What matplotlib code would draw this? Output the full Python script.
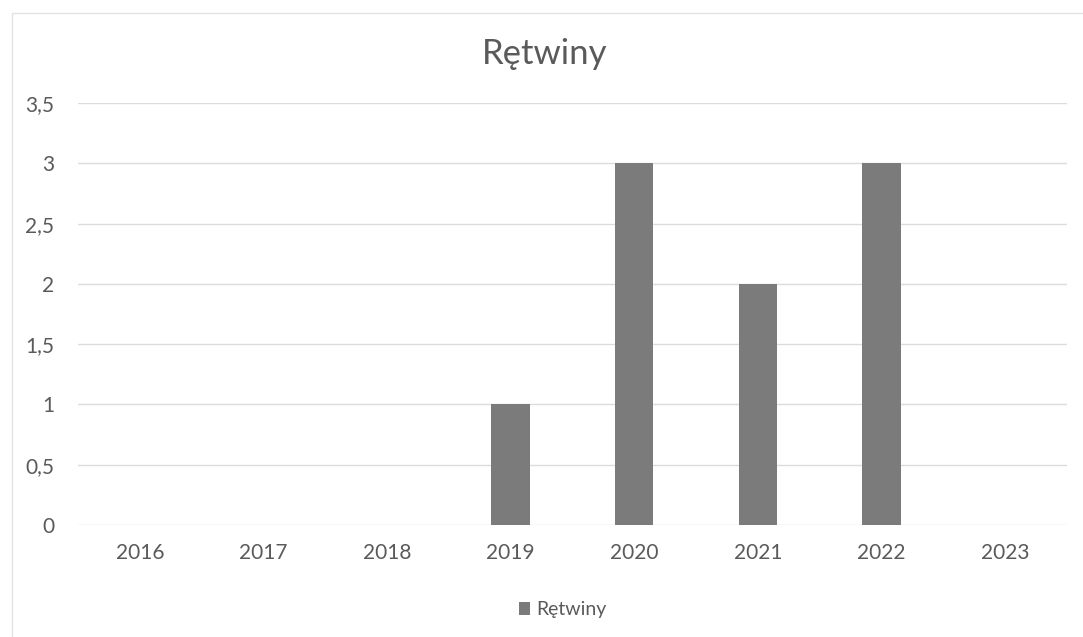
import matplotlib.pyplot as plt
from matplotlib.patches import Rectangle
from matplotlib.ticker import FuncFormatter

years = ['2016', '2017', '2018', '2019', '2020', '2021', '2022', '2023']
counts = [0, 0, 0, 1, 3, 2, 3, 0]
series_name = 'Rętwiny'

plt.rcParams['font.family'] = ['Lato', 'DejaVu Sans']

fig = plt.figure(figsize=(10.83, 6.37), dpi=100)
ax = fig.add_axes([0.072, 0.176, 0.913, 0.662])

x = range(len(years))
ax.bar(x, counts, width=0.31, color='#7b7b7b', label=series_name, zorder=3)

ax.set_xlim(-0.5, len(years) - 0.5)
ax.set_ylim(0, 3.5)
ax.set_yticks([0, 0.5, 1, 1.5, 2, 2.5, 3, 3.5])
ax.yaxis.set_major_formatter(FuncFormatter(lambda v, p: f'{v:g}'.replace('.', ',')))
ax.set_xticks(list(x))
ax.set_xticklabels(years)

ax.grid(axis='y', color='#dcdcdc', linewidth=1, zorder=0)
for s in ax.spines.values():
    s.set_visible(False)
ax.tick_params(length=0, labelsize=15, labelcolor='#5a5a5a')
ax.tick_params(axis='x', pad=13)
ax.tick_params(axis='y', pad=17)

fig.text(0.503, 0.915, series_name, ha='center', va='center', fontsize=25,
         color='#5a5a5a')

ax.legend(loc='upper center', bbox_to_anchor=(0.49, -0.14), frameon=False,
          fontsize=14, labelcolor='#5a5a5a', handlelength=0.6, handleheight=0.6,
          handletextpad=0.3)

# outer chart border
fig.patches.append(Rectangle((0.011, -0.01), 1.0, 0.99, transform=fig.transFigure,
                             fill=False, edgecolor='#e2e2e2', linewidth=1))

fig.savefig('out.png', dpi=100)
